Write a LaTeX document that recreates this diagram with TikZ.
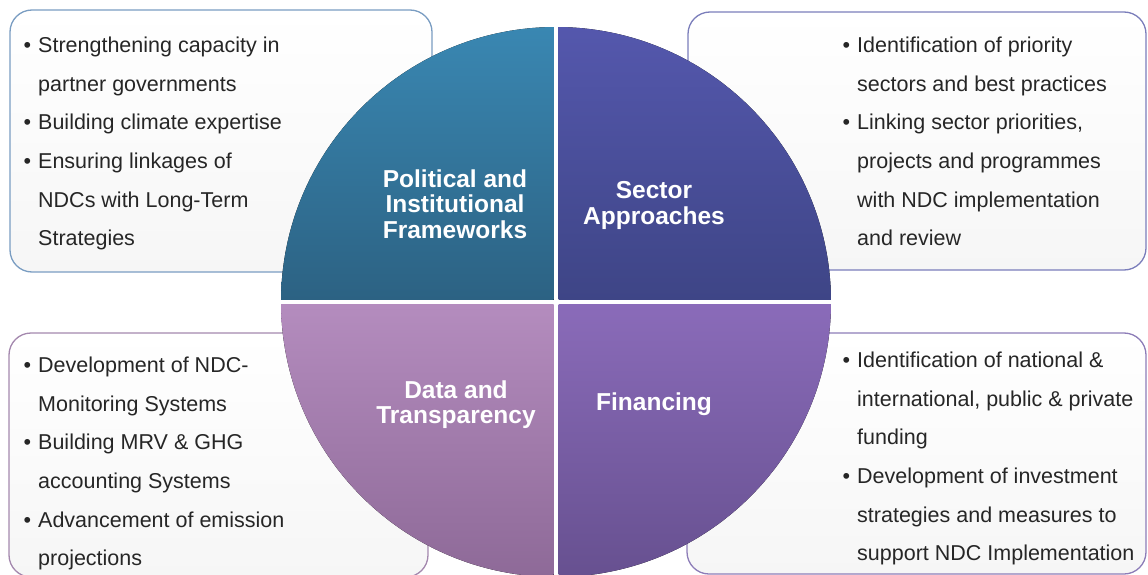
\documentclass[tikz,border=0pt]{standalone}
\usepackage{fontspec}
\setmainfont{Liberation Sans}

\definecolor{tlA}{HTML}{3A88B3}
\definecolor{tlB}{HTML}{2C6283}
\definecolor{trA}{HTML}{5558AE}
\definecolor{trB}{HTML}{3E4586}
\definecolor{blA}{HTML}{B48CBE}
\definecolor{blB}{HTML}{8C6896}
\definecolor{brA}{HTML}{8A6BB9}
\definecolor{brB}{HTML}{654F8E}
\definecolor{tlL}{HTML}{7A9DC2}
\definecolor{trL}{HTML}{7B7EBB}
\definecolor{blL}{HTML}{A488AE}
\definecolor{brL}{HTML}{8D7DB8}

\newcommand{\bul}{\llap{\textbullet\hspace{7pt}}}
\newcommand{\alto}{\rule{0pt}{16.5pt}}
\newcommand{\altob}{\rule{0pt}{18.5pt}}

\tikzset{
  caixa/.style={rounded corners=22pt, line width=1.3pt, top color=white, bottom color=gray!7},
  rotulo/.style={text=white, align=center, inner sep=0pt, anchor=north,
    font=\bfseries\fontsize{24.5}{25.5}\selectfont},
  lista/.style={align=left, inner sep=0pt, anchor=north west, text=black!85,
    font=\fontsize{21.5}{38.6}\selectfont},
}

\begin{document}
\begin{tikzpicture}[x=1pt, y=-1pt]
          \clip (0,0) rectangle (1148,575);

            % Caixas
          \draw[caixa, draw=tlL] (10,10) rectangle (432,272);
          \draw[caixa, draw=trL] (688,12) rectangle (1146,270);
          \draw[caixa, draw=blL] (9,333) rectangle (428,577);
          \draw[caixa, draw=brL] (687,333) rectangle (1146,574);

            % Círculo
          \begin{scope}
            \clip (556,302) circle[radius=275];
            \fill[top color=tlA, bottom color=tlB] (270,20) rectangle (553.5,299.5);
            \fill[top color=trA, bottom color=trB] (558.5,20) rectangle (840,299.5);
            \fill[top color=blA, bottom color=blB] (270,304.5) rectangle (553.5,590);
            \fill[top color=brA, bottom color=brB] (558.5,304.5) rectangle (840,590);
          \end{scope}

            % Rótulos
          \node[rotulo] (polit) at (455,168.5) {\altob Political and\\Institutional\\Frameworks};
          \node[rotulo] (sector) at (654,180) {\altob Sector\\Approaches};
          \node[rotulo] (data) at (456,379.5) {\altob Data and\\Transparency};
          \node[rotulo] (fin) at (654,392) {\altob Financing};

            % Listas
          \node[lista] (polList) at (38,36) {\alto\bul Strengthening capacity in\\
            partner governments\\
            \bul Building climate expertise\\
            \bul Ensuring linkages of\\
            NDCs with Long-Term\\
            Strategies};
          \node[lista] (secList) at (857,36) {\alto\bul Identification of priority\\
            sectors and best practices\\
            \bul Linking sector priorities,\\
            projects and programmes\\
            with NDC implementation\\
            and review};
          \node[lista] (datList) at (38,356) {\alto\bul Development of NDC-\\
            Monitoring Systems\\
            \bul Building MRV \& GHG\\
            accounting Systems\\
            \bul Advancement of emission\\
            projections};
          \node[lista] (finList) at (857,351) {\alto\bul Identification of national \&\\
            international, public \& private\\
            funding\\
            \bul Development of investment\\
            strategies and measures to\\
            support NDC Implementation};
        \end{tikzpicture}
\end{document}
